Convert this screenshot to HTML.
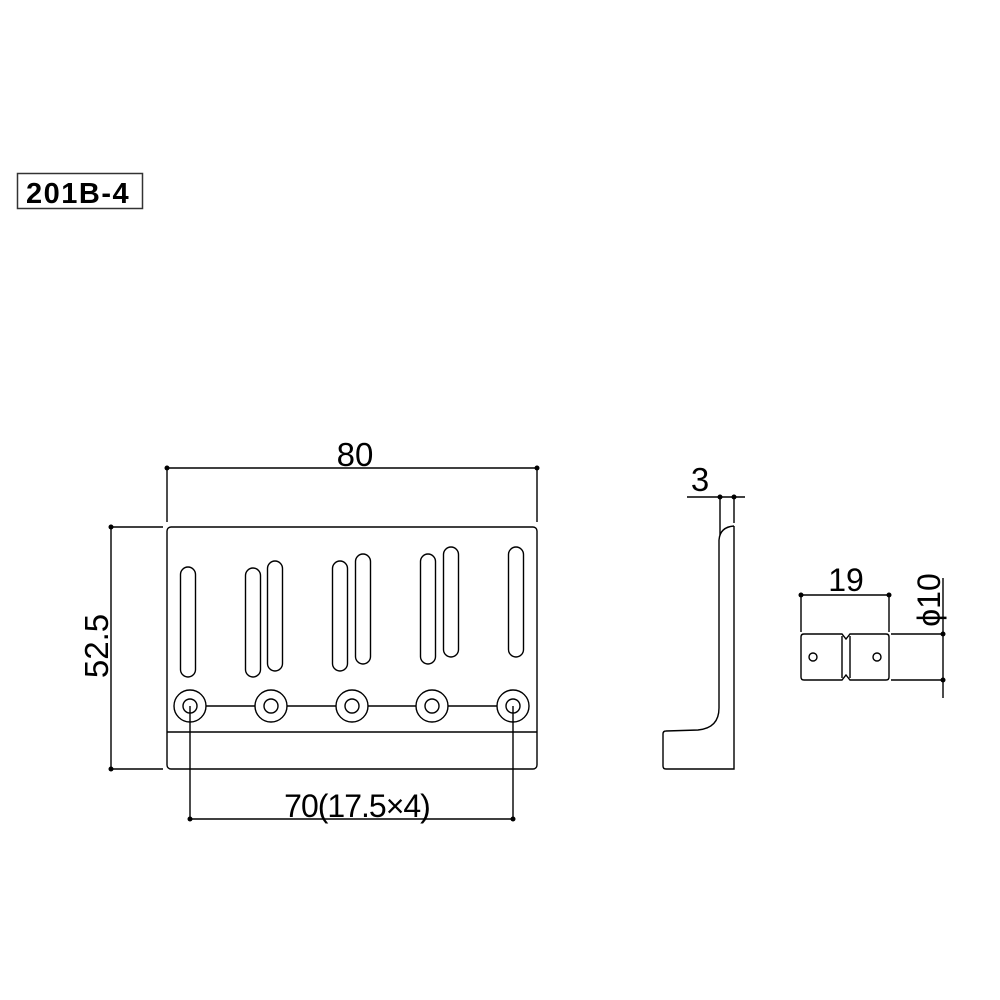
<!DOCTYPE html>
<html><head><meta charset="utf-8"><style>
body{margin:0;background:#fff}
svg{display:block}
text{font-family:"Liberation Sans",sans-serif;fill:#000}
</style></head><body>
<svg width="1000" height="1000" viewBox="0 0 1000 1000" xmlns="http://www.w3.org/2000/svg">
<rect x="17.5" y="173.5" width="125" height="35" fill="none" stroke="#333" stroke-width="1.5"/>
<text x="26" y="203" font-size="29" font-weight="bold" letter-spacing="1.5">201B-4</text>

<g stroke="#000" stroke-width="1.4" fill="none">
<rect x="167" y="527" width="370" height="242" rx="4"/>
<line x1="167" y1="732" x2="537" y2="732"/>
<line x1="190" y1="706" x2="513" y2="706"/>
<g fill="#fff">
<circle cx="190" cy="706" r="16"/><circle cx="190" cy="706" r="7"/>
<circle cx="271" cy="706" r="16"/><circle cx="271" cy="706" r="7"/>
<circle cx="352" cy="706" r="16"/><circle cx="352" cy="706" r="7"/>
<circle cx="432" cy="706" r="16"/><circle cx="432" cy="706" r="7"/>
<circle cx="513" cy="706" r="16"/><circle cx="513" cy="706" r="7"/>
</g>
<rect x="180.5" y="567" width="15" height="110" rx="7.5"/>
<rect x="245.5" y="568" width="15" height="109" rx="7.5"/>
<rect x="267.5" y="561" width="15" height="110" rx="7.5"/>
<rect x="332.5" y="561" width="15" height="110" rx="7.5"/>
<rect x="355.5" y="554" width="15" height="110" rx="7.5"/>
<rect x="420.5" y="554" width="15" height="110" rx="7.5"/>
<rect x="443.5" y="547" width="15" height="110" rx="7.5"/>
<rect x="508.5" y="547" width="15" height="110" rx="7.5"/>
<line x1="167" y1="468" x2="537" y2="468"/>
<line x1="167" y1="468" x2="167" y2="522"/>
<line x1="537" y1="468" x2="537" y2="522"/>
<line x1="111" y1="527" x2="111" y2="769"/>
<line x1="111" y1="527" x2="163" y2="527"/>
<line x1="111" y1="769" x2="163" y2="769"/>
<line x1="190" y1="819" x2="513" y2="819"/>
<line x1="190" y1="706" x2="190" y2="819"/>
<line x1="513" y1="706" x2="513" y2="819"/>
<path d="M734 526 L734 769 L666 769 Q663 769 663 766 L663 734 Q663 731 666 731 L698 730 Q719 728 719 708 L719 540 Q720 527 734 526"/>
<line x1="687" y1="497" x2="745" y2="497"/>
<line x1="720" y1="497" x2="720" y2="535"/>
<line x1="734" y1="497" x2="734" y2="523"/>
<path d="M804 634 L842 634 L846 639 L850 634 L886 634 Q889 634 889 637 L889 677 Q889 680 886 680 L850 680 L846 675 L842 680 L804 680 Q801 680 801 677 L801 637 Q801 634 804 634Z"/>
<line x1="842" y1="636" x2="842" y2="678"/>
<line x1="850" y1="636" x2="850" y2="678"/>
<circle cx="813" cy="657" r="4"/>
<circle cx="877" cy="657" r="4"/>
<line x1="801" y1="595" x2="889" y2="595"/>
<line x1="801" y1="595" x2="801" y2="632"/>
<line x1="889" y1="595" x2="889" y2="632"/>
<line x1="943" y1="578" x2="943" y2="698"/>
<line x1="891" y1="634" x2="943" y2="634"/>
<line x1="891" y1="680" x2="943" y2="680"/>
</g>
<g fill="#000">
<circle cx="167" cy="468" r="2.5"/><circle cx="537" cy="468" r="2.5"/>
<circle cx="111" cy="527" r="2.5"/><circle cx="111" cy="769" r="2.5"/>
<circle cx="190" cy="819" r="2.5"/><circle cx="513" cy="819" r="2.5"/>
<circle cx="720" cy="497" r="2.5"/><circle cx="734" cy="497" r="2.5"/>
<circle cx="801" cy="595" r="2.5"/><circle cx="889" cy="595" r="2.5"/>
<circle cx="943" cy="634" r="2.5"/><circle cx="943" cy="680" r="2.5"/>
</g>
<text x="355" y="466" font-size="33" text-anchor="middle">80</text>
<text transform="translate(108,646) rotate(-90)" font-size="33" text-anchor="middle">52.5</text>
<text x="357" y="817" font-size="32" text-anchor="middle" letter-spacing="-1">70(17.5×4)</text>
<text x="700" y="491" font-size="33" text-anchor="middle">3</text>
<text x="846" y="591" font-size="32" text-anchor="middle">19</text>
<text transform="translate(940,600) rotate(-90)" font-size="32" text-anchor="middle">ϕ10</text>
</svg>
</body></html>
